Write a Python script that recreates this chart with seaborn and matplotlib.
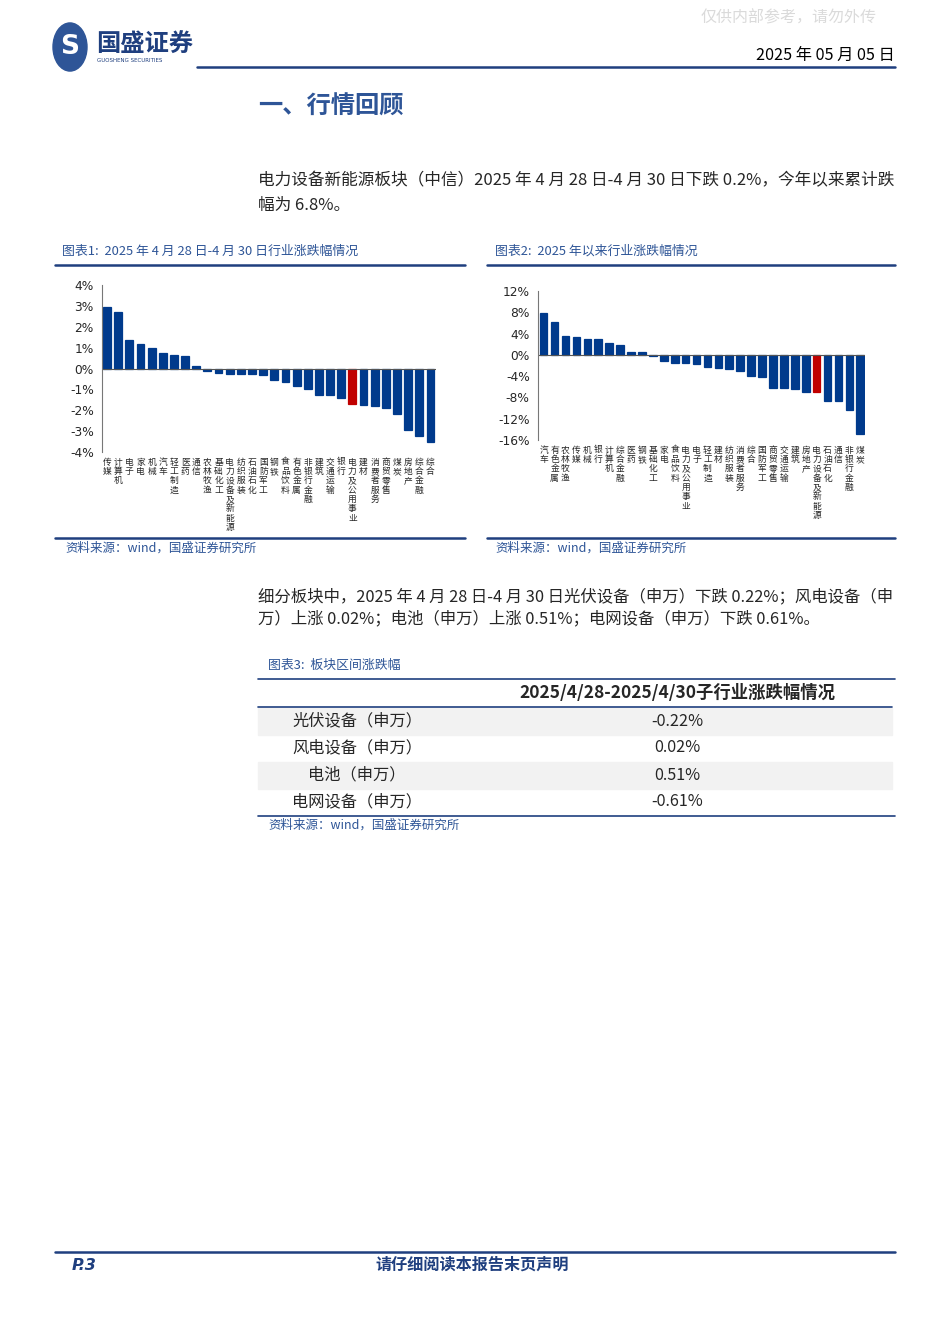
import numpy as np
import pandas as pd
import matplotlib.pyplot as plt
import seaborn as sns
from matplotlib.patches import Circle, Rectangle
from matplotlib.lines import Line2D

# Chart 1: industry change 2025/4/28-4/30 (%)
cats1 = ["传媒", "计算机", "电子", "家电", "机械", "汽车", "轻工制造", "医药", "通信", "农林牧渔",
         "基础化工", "电力设备及新能源", "纺织服装", "石油石化", "国防军工", "钢铁", "食品饮料", "有色金属",
         "非银行金融", "建筑", "交通运输", "银行", "电力及公用事业", "建材", "消费者服务", "商贸零售",
         "煤炭", "房地产", "综合金融", "综合"]
vals1 = [2.95, 2.72, 1.35, 1.17, 1.0, 0.76, 0.66, 0.58, 0.1, -0.1,
         -0.2, -0.25, -0.25, -0.25, -0.3, -0.55, -0.67, -0.85, -1.0, -1.28,
         -1.28, -1.4, -1.7, -1.74, -1.78, -1.88, -2.2, -2.97, -3.22, -3.5]
red1 = "电力及公用事业"

# Chart 2: industry change year to date (%)
cats2 = ["汽车", "有色金属", "农林牧渔", "传媒", "机械", "银行", "计算机", "综合金融", "医药", "钢铁",
         "基础化工", "家电", "食品饮料", "电力及公用事业", "电子", "轻工制造", "建材", "纺织服装",
         "消费者服务", "综合", "国防军工", "商贸零售", "交通运输", "建筑", "房地产", "电力设备及新能源",
         "石油石化", "通信", "非银行金融", "煤炭"]
vals2 = [7.9, 6.1, 3.5, 3.3, 3.0, 3.0, 2.3, 1.8, 0.5, 0.5,
         -0.3, -1.2, -1.45, -1.45, -1.75, -2.2, -2.5, -2.75, -2.95, -4.0,
         -4.2, -6.2, -6.2, -6.35, -6.9, -7.0, -8.6, -8.75, -10.4, -14.9]
red2 = "电力设备及新能源"

# Table 3
tbl_header = "2025/4/28-2025/4/30子行业涨跌幅情况"
tbl_rows = ["光伏设备（申万）", "风电设备（申万）", "电池（申万）", "电网设备（申万）"]
tbl_vals = ["-0.22%", "0.02%", "0.51%", "-0.61%"]

BLUE = "#003A8C"
RED = "#C00000"
NAVY = "#1F3F7F"
TBLUE = "#2E5597"

sns.set_theme(style="white")
plt.rcParams["font.family"] = ["Noto Sans CJK SC", "DejaVu Sans"]
plt.rcParams["axes.unicode_minus"] = False

W, H = 950, 1344
fig = plt.figure(figsize=(9.5, 13.44), dpi=100)


def fx(x):
    return x / W


def fy(y):
    return 1 - y / H


def hline(x0, x1, y, color=NAVY, lw=1.2):
    fig.add_artist(Line2D([fx(x0), fx(x1)], [fy(y), fy(y)], color=color, lw=lw,
                          transform=fig.transFigure))


def txt(x, y, s, **kw):
    fig.text(fx(x), fy(y), s, **kw)


# header
txt(877, 18, "仅供内部参考，请勿外传", fontsize=11.5, color="#DADADA", ha="right", va="center")
fig.add_artist(Circle((fx(70), fy(47)), 17 / W, transform=fig.transFigure, color=TBLUE))
txt(70, 47, "S", fontsize=19, fontweight="bold", color="white", ha="center", va="center",
    family="DejaVu Sans")
txt(96, 45, "国盛证券", fontsize=17.5, fontweight="bold", color=NAVY, va="center")
txt(97, 61, "GUOSHENG SECURITIES", fontsize=4, color=NAVY, va="center", family="DejaVu Sans")
txt(895, 55, "2025 年 05 月 05 日", fontsize=11.7, color="black", ha="right", va="center")
hline(197, 895, 67, lw=1.8)

txt(258, 107, "一、行情回顾", fontsize=17.5, fontweight="bold", color=TBLUE, va="center")
txt(258, 181, "电力设备新能源板块（中信）2025 年 4 月 28 日-4 月 30 日下跌 0.2%，今年以来累计跌",
    fontsize=12, va="center")
txt(258, 205, "幅为 6.8%。", fontsize=12, va="center")

# chart titles and frames
txt(62, 251, "图表1:  2025 年 4 月 28 日-4 月 30 日行业涨跌幅情况", fontsize=9.3, color=TBLUE,
    va="center", style="italic")
txt(495, 251, "图表2:  2025 年以来行业涨跌幅情况", fontsize=9.3, color=TBLUE, va="center",
    style="italic")
hline(55, 465, 265, lw=1.8)
hline(487, 895, 265, lw=1.8)
hline(55, 465, 538, lw=1.8)
hline(487, 895, 538, lw=1.8)
txt(65, 548, "资料来源：wind，国盛证券研究所", fontsize=9, color=TBLUE, va="center", style="italic")
txt(495, 548, "资料来源：wind，国盛证券研究所", fontsize=9, color=TBLUE, va="center", style="italic")


def bar_chart(rect, cats, vals, red, ylim, ticks, xlim):
    ax = fig.add_axes(rect)
    df = pd.DataFrame({"cat": cats, "val": vals})
    pal = {c: (RED if c == red else BLUE) for c in cats}
    sns.barplot(data=df, x="cat", y="val", hue="cat", palette=pal, order=cats,
                legend=False, width=0.7, saturation=1, ax=ax)
    for p in ax.patches:
        p.set_edgecolor(p.get_facecolor())
        p.set_linewidth(0.9)
    ax.set_ylim(*ylim)
    ax.set_xlim(*xlim)
    ax.set_yticks(ticks)
    ax.set_yticklabels([f"{t}%" for t in ticks], family="DejaVu Sans", fontsize=8.8)
    ax.set_xticks(range(len(cats)))
    ax.set_xticklabels(["\n".join(c) for c in cats], fontsize=6.3, linespacing=1.05,
                       va="top")
    ax.tick_params(axis="x", length=0, pad=4)
    ax.tick_params(axis="y", length=3, width=0.6, direction="out", color="#777777", pad=3)
    ax.axhline(0, color="#555555", lw=0.8)
    for s in ["top", "right", "bottom"]:
        ax.spines[s].set_visible(False)
    ax.spines["left"].set_color("#777777")
    ax.spines["left"].set_linewidth(0.8)
    ax.set_xlabel("")
    ax.set_ylabel("")
    ax.patch.set_alpha(0)
    return ax


bar_chart([fx(102), fy(452), (436 - 102) / W, (452 - 285) / H], cats1, vals1, red1,
          (-4, 4), [4, 3, 2, 1, 0, -1, -2, -3, -4], (-0.45, 29.5))
bar_chart([fx(538), fy(440), (865 - 538) / W, (440 - 291) / H], cats2, vals2, red2,
          (-16, 12), [12, 8, 4, 0, -4, -8, -12, -16], (-0.52, 29.43))

# paragraph 2
txt(258, 597, "细分板块中，2025 年 4 月 28 日-4 月 30 日光伏设备（申万）下跌 0.22%；风电设备（申",
    fontsize=11.8, va="center")
txt(258, 619, "万）上涨 0.02%；电池（申万）上涨 0.51%；电网设备（申万）下跌 0.61%。",
    fontsize=11.8, va="center")

# table 3
txt(268, 665, "图表3:  板块区间涨跌幅", fontsize=9.3, color=TBLUE, va="center", style="italic")
hline(258, 895, 679, lw=1.2)
txt(677, 693, tbl_header, fontsize=12.5, fontweight="bold", ha="center", va="center")
hline(258, 892, 707, lw=1.2)
row_y = [721, 748, 775, 802]
for i, (name, v) in enumerate(zip(tbl_rows, tbl_vals)):
    if i % 2 == 0:
        fig.add_artist(Rectangle((fx(258), fy(row_y[i] + 13.5)), (892 - 258) / W, 27 / H,
                                 transform=fig.transFigure, color="#F2F2F2", zorder=0))
    txt(357, row_y[i], name, fontsize=11.7, ha="center", va="center")
    txt(677, row_y[i], v, fontsize=11.7, ha="center", va="center")
hline(258, 895, 816, lw=1.2)
txt(268, 825, "资料来源：wind，国盛证券研究所", fontsize=9, color=TBLUE, va="center", style="italic")

# footer
hline(55, 895, 1252, lw=1.8)
txt(72, 1265, "P.3", fontsize=11.5, fontweight="bold", style="italic", color=NAVY, va="center",
    family="DejaVu Sans")
txt(472, 1265, "请仔细阅读本报告末页声明", fontsize=11.6, fontweight="bold", color=NAVY,
    ha="center", va="center")

fig.savefig("out.png", dpi=100)
